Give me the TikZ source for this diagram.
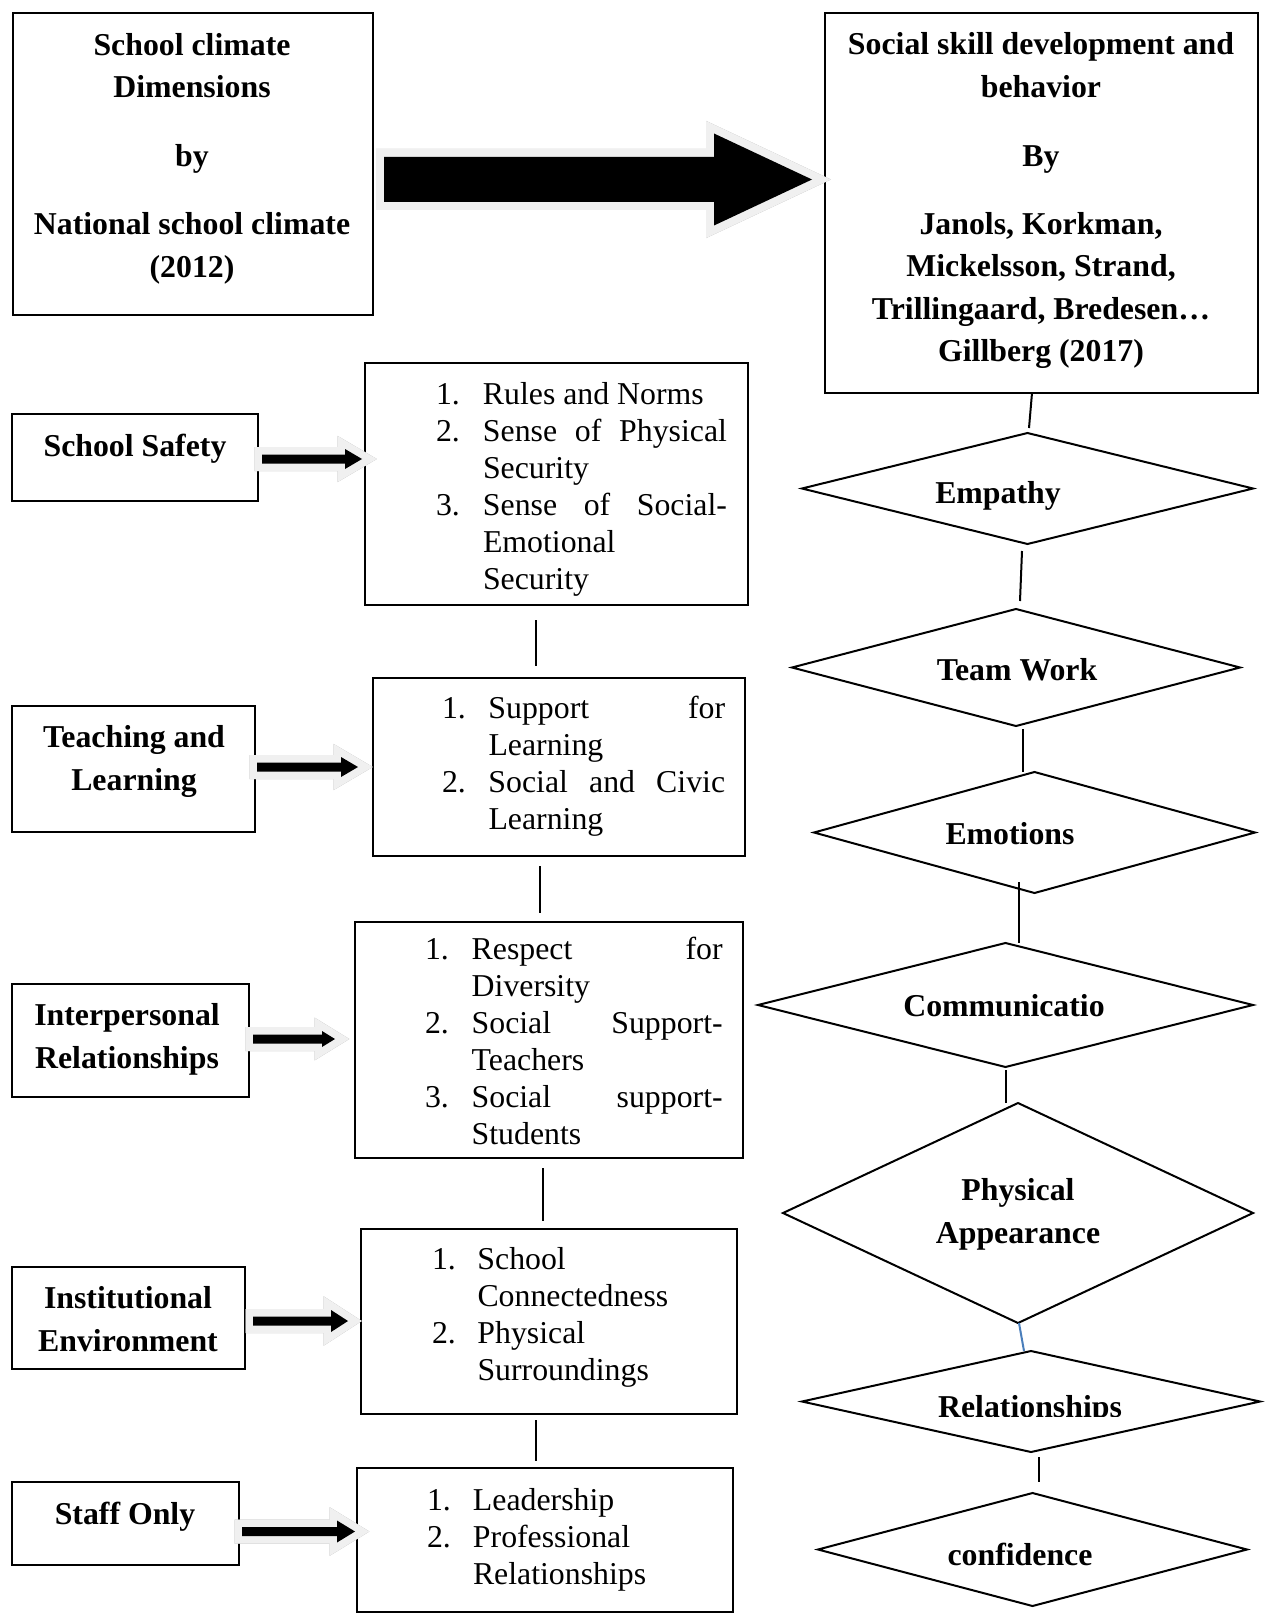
\documentclass[tikz,border=0pt]{standalone}
\usepackage{fontspec}
\setmainfont{Liberation Serif}
\usetikzlibrary{shapes.geometric,calc}

\definecolor{rim}{gray}{0.94}
\definecolor{shade}{gray}{0.66}
\definecolor{linkblue}{RGB}{74,126,187}

\newcommand\bfsize{\fontsize{15.9}{21.25}\selectfont\bfseries}
\newcommand\rmsize{\fontsize{15.9}{18.5}\selectfont}
% a justified list line of fixed width
\newcommand\jl[2]{\makebox[#1][s]{#2}}

% outline of a block arrow: start, tip, shaft half-width, head half-width, head length (px)
\newcommand\arrowpath[5]{let \p1=(#1), \p2=(#2) in
  ({\x1},{\y1+#3*0.5pt}) -- ({\x2-#5*0.5pt},{\y1+#3*0.5pt}) --
  ({\x2-#5*0.5pt},{\y1+#4*0.5pt}) -- ({\x2},{\y1}) --
  ({\x2-#5*0.5pt},{\y1-#4*0.5pt}) -- ({\x2-#5*0.5pt},{\y1-#3*0.5pt}) --
  ({\x1},{\y1-#3*0.5pt}) -- cycle}
% black block arrow with a light rim and a grey drop shadow
\newcommand\blockarrow[6]{%
  \path[fill=shade, draw=shade, line width=#6pt, shift={(2,4)}] \arrowpath{#1}{#2}{#3}{#4}{#5};
  \path[fill=rim, draw=rim, line width=#6pt] \arrowpath{#1}{#2}{#3}{#4}{#5};
  \path[fill=black] \arrowpath{#1}{#2}{#3}{#4}{#5};
}

\begin{document}
\begin{tikzpicture}[x=0.5pt, y=-0.5pt,
  frame/.style={draw, line width=1pt, inner sep=0pt, outer sep=0pt},
  dia/.style={diamond, draw, line width=1pt, inner sep=0pt, outer sep=0pt},
  sz/.style 2 args={minimum width=#1*0.5pt, minimum height=#2*0.5pt},
  head/.style={inner sep=0pt, outer sep=0pt, font=\bfsize, yshift=-1.75pt},
  cut/.style={inner sep=0pt, outer sep=0pt, font=\bfsize},
  body/.style={inner sep=0pt, outer sep=0pt, font=\rmsize, anchor=west, yshift=-1.75pt},
  link/.style={line width=1pt}]

\path[fill=white] (0,0) rectangle (1264,1621);
\useasboundingbox (0,0) rectangle (1264,1621);

% ---- top boxes ----
\node[frame, sz={360}{302}] (tl) at (193,164) {};
\node[frame, sz={433}{380}] (tr) at (1041.5,203) {};
\node[head] (tlt) at (192,154.5) {\begin{tabular}{@{}c@{}}School climate\\Dimensions\\[13pt]by\\[13pt]National school climate\\(2012)\end{tabular}};
\node[head] (trt) at (1041,196.5) {\begin{tabular}{@{}c@{}}Social skill development and\\behavior\\[13pt]By\\[13pt]Janols, Korkman,\\Mickelsson, Strand,\\Trillingaard, Bredesen…\\Gillberg (2017)\end{tabular}};

% ---- dimension boxes (left) ----
\node[frame, sz={246}{87}]  (ls1) at (135,457.5) {};
\node[frame, sz={243}{126}] (ls2) at (133.5,769) {};
\node[frame, sz={237}{113}] (ls3) at (130.5,1040.5) {};
\node[frame, sz={233}{102}] (ls4) at (128.5,1318) {};
\node[frame, sz={227}{83}]  (ls5) at (125.5,1523.5) {};
\node[head] (lt1) at (135,444) {\begin{tabular}{@{}c@{}}School Safety\end{tabular}};
\node[head] (lt2) at (134,757) {\begin{tabular}{@{}c@{}}Teaching and\\Learning\end{tabular}};
\node[head] (lt3) at (127,1035) {\begin{tabular}{@{}c@{}}Interpersonal\\Relationships\end{tabular}};
\node[head] (lt4) at (128,1318) {\begin{tabular}{@{}c@{}}Institutional\\Environment\end{tabular}};
\node[head] (lt5) at (125,1512) {\begin{tabular}{@{}c@{}}Staff Only\end{tabular}};

% ---- item boxes (middle) ----
\node[frame, sz={383}{242}] (ms1) at (556.5,484) {};
\node[frame, sz={372}{178}] (ms2) at (559,767) {};
\node[frame, sz={388}{236}] (ms3) at (549,1040) {};
\node[frame, sz={376}{185}] (ms4) at (549,1321.5) {};
\node[frame, sz={376}{144}] (ms5) at (545,1540) {};

\node[body] (mt1) at (436,486) {\begin{tabular}{@{}p{23.5pt}@{}l@{}}
1.&Rules and Norms\\
2.&\jl{122pt}{Sense of Physical}\\
&Security\\
3.&\jl{122pt}{Sense of Social-}\\
&Emotional\\
&Security\end{tabular}};
\node[body] (mt2) at (442,763.5) {\begin{tabular}{@{}p{23.25pt}@{}l@{}}
1.&\jl{118.3pt}{Support for}\\
&Learning\\
2.&\jl{118.3pt}{Social and Civic}\\
&Learning\end{tabular}};
\node[body] (mt3) at (425,1041.5) {\begin{tabular}{@{}p{23.35pt}@{}l@{}}
1.&\jl{125.5pt}{Respect for}\\
&Diversity\\
2.&\jl{125.5pt}{Social Support-}\\
&Teachers\\
3.&\jl{125.5pt}{Social support-}\\
&Students\end{tabular}};
\node[body] (mt4) at (432,1314.5) {\begin{tabular}{@{}p{22.75pt}@{}l@{}}
1.&School\\
&Connectedness\\
2.&Physical\\
&Surroundings\end{tabular}};
\node[body] (mt5) at (427,1536.5) {\begin{tabular}{@{}p{23pt}@{}l@{}}
1.&Leadership\\
2.&Professional\\
&Relationships\end{tabular}};

% ---- links between item boxes ----
\draw[link] ($(ms1.south)+(-20.5,15)$) -- ($(ms2.north)+(-23,-12)$);
\draw[link] ($(ms2.south)+(-19,10)$) -- ($(ms3.north)+(-9,-9)$);
\draw[link] ($(ms3.south)+(-6,10)$) -- ($(ms4.north)+(-6,-8)$);
\draw[link] ($(ms4.south)+(-13,6)$) -- ($(ms5.north)+(-9,-7)$);

% ---- skills (right) ----
\node[dia, sz={451}{111}] (d1) at (1027.5,488.5) {};
\node[dia, sz={448}{117}] (d2) at (1016,667.5) {};
\node[dia, sz={441}{121}] (d3) at (1034.5,832.5) {};
\node[dia, sz={495}{124}] (d4) at (1005.5,1005) {};
\node[dia, sz={470}{220}] (d5) at (1018,1213) {};
\node[dia, sz={458}{101}] (d6) at (1031,1401.5) {};
\node[dia, sz={429}{113}] (d7) at (1032.5,1549.5) {};

\node[head] (dt1) at (998,491) {\begin{tabular}{@{}c@{}}Empathy\end{tabular}};
\node[head] (dt2) at (1017,668) {\begin{tabular}{@{}c@{}}Team Work\end{tabular}};
\node[head] (dt3) at (1010,832) {\begin{tabular}{@{}c@{}}Emotions\end{tabular}};
\node[head] (dt4) at (1004,1004) {\begin{tabular}{@{}c@{}}Communicatio\end{tabular}};
\node[head] (dt5) at (1018,1210) {\begin{tabular}{@{}c@{}}Physical\\Appearance\end{tabular}};
\begin{scope}
  \clip (800,1340) rectangle (1264,1416.5);
  \node[cut, anchor=base] (dt6) at (1030,1417) {Relationships};
\end{scope}
\node[head] (dt7) at (1020,1553) {\begin{tabular}{@{}c@{}}confidence\end{tabular}};

\draw[link] ($(tr.south)+(-9.5,0)$) -- ($(d1.north)+(1.5,-5)$);
\draw[link] ($(d1.south)+(-5.5,7)$) -- ($(d2.north)+(4,-8)$);
\draw[link] ($(d2.south)+(7,3)$) -- ($(d3.north)+(-11.5,0)$);
\draw[link] ($(d3.south)+(-15.5,-11)$) -- ($(d4.north)+(13.5,0)$);
\draw[link] ($(d4.south)+(0.5,3)$) -- ($(d5.north)+(-12,0)$);
\draw[link, draw=linkblue] ($(d5.south)+(1,0)$) -- ($(d6.north)+(-7,0)$);
\draw[link] ($(d6.south)+(8,5)$) -- ($(d7.north)+(6.5,-11)$);

% ---- block arrows ----
\coordinate (bigs) at ($(tl.east)+(11,15.5)$);
\coordinate (bigt) at ($(tr.west|-bigs)+(-13,0)$);
\blockarrow{bigs}{bigt}{22.5}{46}{98}{8}

\coordinate (a1s) at ($(ls1.east)+(4,1.5)$);
\coordinate (a1t) at ($(ms1.west|-a1s)+(-3,0)$);
\blockarrow{a1s}{a1t}{4.5}{10}{17}{7.5}
\coordinate (a2s) at ($(ls2.east)+(2,-2)$);
\coordinate (a2t) at ($(ms2.west|-a2s)+(-15,0)$);
\blockarrow{a2s}{a2t}{4.5}{10}{17}{7.5}
\coordinate (a3s) at ($(ls3.east)+(4,-1.5)$);
\coordinate (a3t) at ($(ms3.west|-a3s)+(-20,0)$);
\blockarrow{a3s}{a3t}{4.5}{8}{13}{7.5}
\coordinate (a4s) at ($(ls4.east)+(8,3)$);
\coordinate (a4t) at ($(ms4.west|-a4s)+(-13,0)$);
\blockarrow{a4s}{a4t}{4.5}{11}{17}{7.5}
\coordinate (a5s) at ($(ls5.east)+(3,8)$);
\coordinate (a5t) at ($(ms5.west|-a5s)+(-2,0)$);
\blockarrow{a5s}{a5t}{4.5}{11}{18}{7.5}

\end{tikzpicture}
\end{document}
